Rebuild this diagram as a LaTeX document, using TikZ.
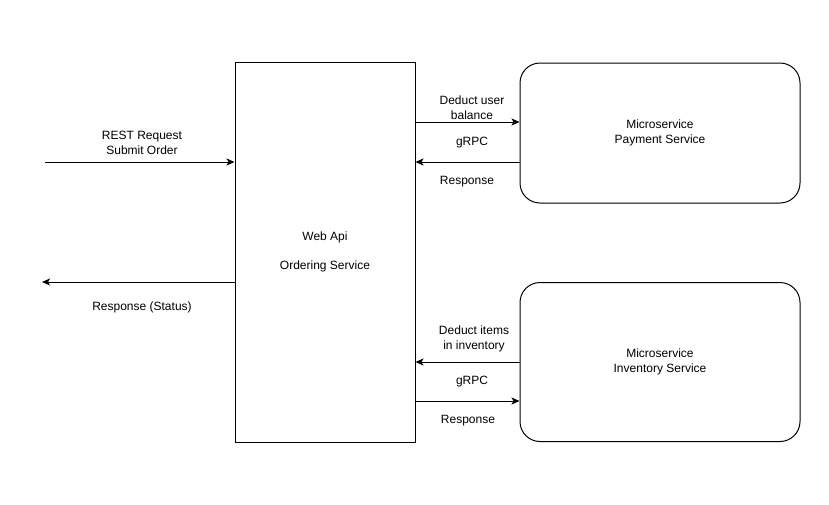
\documentclass[tikz,border=0pt]{standalone}
\usepackage{fontspec}
\setmainfont{Liberation Sans}
\usetikzlibrary{arrows.meta}

\tikzset{
  box/.style={draw, line width=1pt, fill=white, inner sep=0pt},
  svc/.style={box, rounded corners=20pt, minimum width=280pt, minimum height=140pt, align=center},
  lbl/.style={align=center, inner sep=0pt, font=\fontsize{12}{15}\selectfont},
  link/.style={line width=1pt, -{Stealth[length=8pt,width=7pt,inset=2pt]}}
}

\begin{document}
\begin{tikzpicture}[x=1pt, y=-1pt, font=\fontsize{12}{15}\selectfont]

  \useasboundingbox[fill=white] (0,0) rectangle (829,504);

  % Boxes.
  \node[box, minimum width=180pt, minimum height=380pt, align=center] (api) at (325,252)
    {Web Api\\[14pt]Ordering Service};
  \node[svc] (pay) at (660,133) {Microservice\\Payment Service};
  \node[svc, minimum height=159pt] (inv) at (660,362) {Microservice\\Inventory Service};

  % Client side.
  \coordinate (client) at (45,162);
  \coordinate (caller) at (42,282);
  \draw[link] (client) -- (client -| api.west);
  \node[lbl] (restlbl) at (142,143) {REST Request\\Submit Order};
  \draw[link] (caller -| api.west) -- (caller);
  \node[lbl] (statuslbl) at (142,307) {Response (Status)};

  % Payment service.
  \draw[link] (api.east |- 0,122) -- (pay.west |- 0,122);
  \node[lbl] (deductlbl) at (472,108) {Deduct user\\balance};
  \node[lbl] (grpcpay) at (472,143) {gRPC};
  \draw[link] (pay.west |- 0,162) -- (api.east |- 0,162);
  \node[lbl] (resppay) at (467,182) {Response};

  % Inventory service.
  \draw[link] (inv.west |- 0,362) -- (api.east |- 0,362);
  \node[lbl] (itemslbl) at (474,339) {Deduct items\\in inventory};
  \node[lbl] (grpcinv) at (472,382) {gRPC};
  \draw[link] (api.east |- 0,401) -- (inv.west |- 0,401);
  \node[lbl] (respinv) at (468,421) {Response};

\end{tikzpicture}
\end{document}
